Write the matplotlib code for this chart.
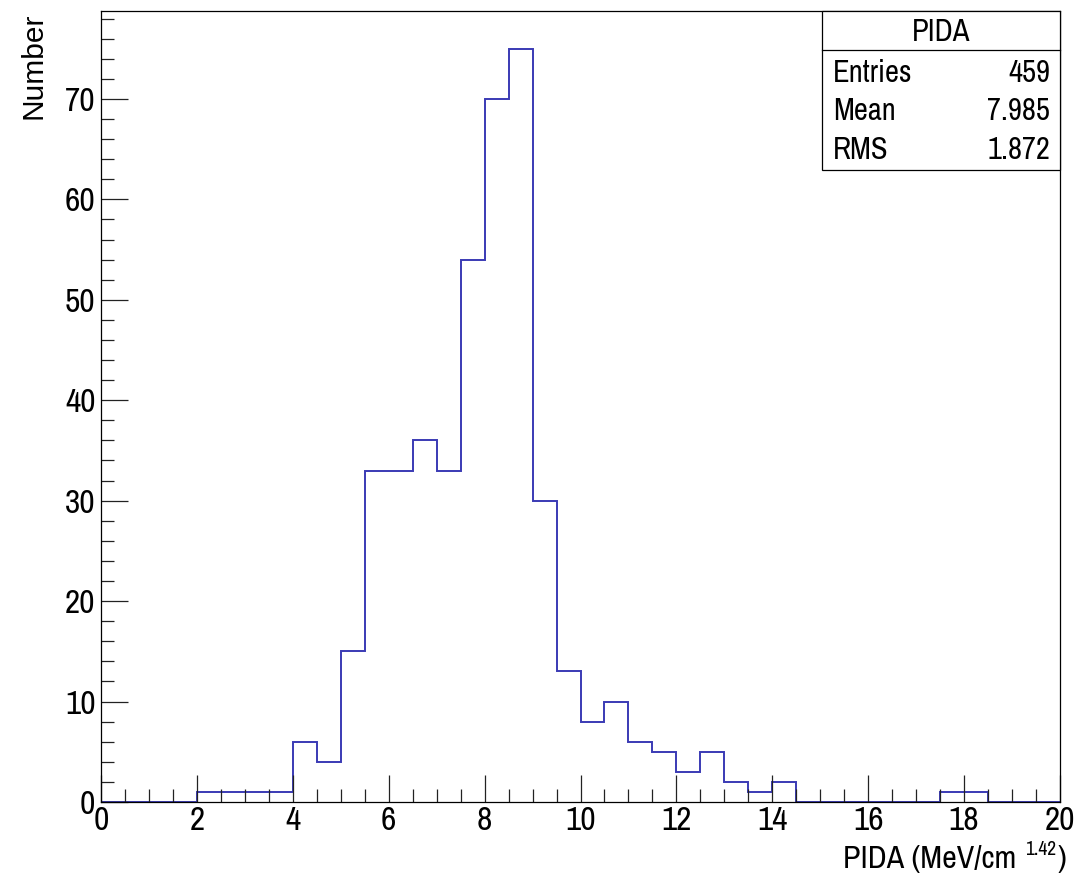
import matplotlib
matplotlib.use("Agg")
import matplotlib.pyplot as plt
from matplotlib import font_manager as fm
from matplotlib.ticker import MultipleLocator
import numpy as np

# ---- data ----
bin_low = 0.0
bin_high = 20.0
bin_width = 0.5
counts = [0, 0, 0, 0, 1, 1, 1, 1, 6, 4,
          15, 33, 33, 36, 33, 54, 70, 75, 30, 13,
          8, 10, 6, 5, 3, 5, 2, 1, 2, 0,
          0, 0, 0, 0, 0, 1, 1, 0, 0, 0]
stats_title = "PIDA"
stats_labels = ["Entries", "Mean", "RMS"]
stats_values = ["459", "7.985", "1.872"]
x_ticks = [0, 2, 4, 6, 8, 10, 12, 14, 16, 18, 20]
y_ticks = [0, 10, 20, 30, 40, 50, 60, 70]
x_label_main = "PIDA (MeV/cm"
x_label_sup = "1.42"
x_label_close = ")"
y_label = "Number"

names = set(f.name for f in fm.fontManager.ttflist)
FONT = "Archivo Narrow" if "Archivo Narrow" in names else "Liberation Sans"
plt.rcParams["font.family"] = [FONT, "DejaVu Sans"]

edges = np.arange(bin_low, bin_high + bin_width / 2, bin_width)
counts_arr = np.array(counts, dtype=float)

W, H = 1091, 875
fig = plt.figure(figsize=(W / 100, H / 100), dpi=100)
ax = fig.add_axes([101 / W, 1 - 802 / H, (1060 - 101) / W, (802 - 11) / H])

ax.stairs(counts_arr, edges, color="#3a3ab4", linewidth=1.4)

ax.set_xlim(bin_low, bin_high)
ax.set_ylim(0, counts_arr.max() * 1.05)
ax.set_xticks(x_ticks)
ax.set_yticks(y_ticks)
ax.xaxis.set_minor_locator(MultipleLocator(0.5))
ax.yaxis.set_minor_locator(MultipleLocator(2))
ax.tick_params(which="both", direction="in", top=False, right=False, width=0.9, color="#222222")
ax.tick_params(which="major", length=19.5, labelsize=24)
ax.tick_params(which="minor", length=9.7)
ax.tick_params(axis="y", pad=4)
ax.tick_params(axis="x", pad=3)
for s in ax.spines.values():
    s.set_linewidth(0.9)

# x-axis title with small superscript
fig.text(1016 / W, 1 - 868 / H, x_label_main, ha="right", va="baseline", fontsize=23)
fig.text(1056 / W, 1 - 855 / H, x_label_sup, ha="right", va="baseline", fontsize=14)
fig.text(1066 / W, 1 - 868 / H, x_label_close, ha="right", va="baseline", fontsize=23)

# y-axis title
fig.text(34 / W, 1 - 13 / H, y_label, rotation=90, ha="center", va="top", fontsize=21.5,
         family=["Liberation Sans", "DejaVu Sans"])

# stats box
bx0, bx1 = 822 / W, 1060 / W
by1, by0 = 1 - 11 / H, 1 - 170 / H
bys = 1 - 50 / H
fig.patches.append(plt.Rectangle((bx0, by0), bx1 - bx0, by1 - by0, transform=fig.transFigure,
                                 facecolor="white", edgecolor="black", linewidth=0.9, zorder=5))
fig.lines.append(plt.Line2D([bx0, bx1], [bys, bys], transform=fig.transFigure, color="black",
                            linewidth=0.9, zorder=6))
fig.text((bx0 + bx1) / 2, 1 - 32 / H, stats_title, ha="center", va="center", fontsize=22, zorder=7)
rows_y = [73, 111, 150]
for lab, val, ry in zip(stats_labels, stats_values, rows_y):
    fig.text(833 / W, 1 - ry / H, lab, ha="left", va="center", fontsize=22, zorder=7)
    fig.text(1050 / W, 1 - ry / H, val, ha="right", va="center", fontsize=22, zorder=7)

fig.savefig("out.png", dpi=100, facecolor="white")
